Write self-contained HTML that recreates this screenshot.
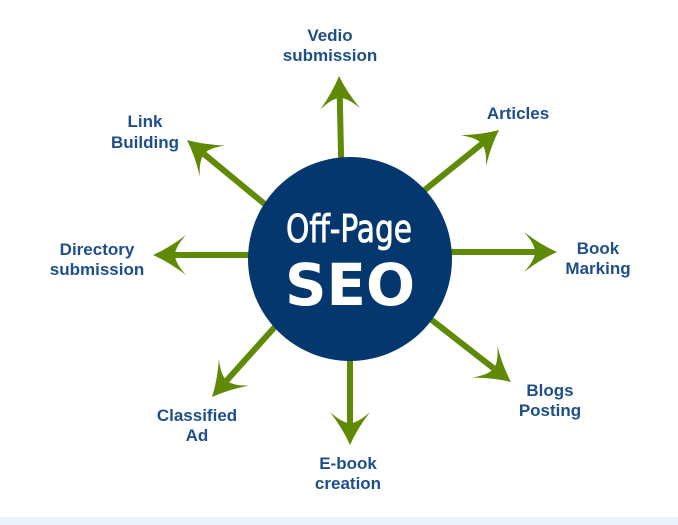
<!DOCTYPE html>
<html><head><meta charset="utf-8"><style>
html,body{margin:0;padding:0;background:#fff;width:678px;height:525px;overflow:hidden}
svg{display:block}
.l{font-family:"Liberation Sans",Arial,sans-serif;font-size:17px;font-weight:bold;fill:#1f4f8b;text-anchor:middle}
</style></head><body>
<svg width="678" height="525" viewBox="0 0 678 525" xmlns="http://www.w3.org/2000/svg">
<defs>
<path id="h" d="M0,0 Q-16,-7 -33,-20 Q-22,-8 -22,0 Q-22,8 -33,20 Q-16,7 0,0 Z" fill="#5f8a05"/>
</defs>
<rect x="0" y="517" width="678" height="8" fill="#ebf0f9"/>
<g stroke="#5f8a05" stroke-width="6">
<line x1="342" y1="200" x2="339.8" y2="98"/>
<line x1="400" y1="210" x2="481.9" y2="143.8"/>
<line x1="420" y1="252" x2="535" y2="252"/>
<line x1="410" y1="303" x2="493.7" y2="368.4"/>
<line x1="350" y1="320" x2="350" y2="423"/>
<line x1="290" y1="310" x2="226.6" y2="380.6"/>
<line x1="280" y1="255" x2="175" y2="255"/>
<line x1="290" y1="225" x2="204" y2="154"/>
</g>
<use href="#h" transform="translate(339,76) rotate(-92)"/>
<use href="#h" transform="translate(499,130) rotate(-39)"/>
<use href="#h" transform="translate(557,252) rotate(0)"/>
<use href="#h" transform="translate(511,382) rotate(38)"/>
<use href="#h" transform="translate(350,445) rotate(90)"/>
<use href="#h" transform="translate(212,397) rotate(131.6)"/>
<use href="#h" transform="translate(153,255) rotate(180)"/>
<use href="#h" transform="translate(187,140) rotate(-140.6)"/>
<circle cx="350" cy="259" r="102" fill="#03376e"/>
<text x="349" y="242" fill="#fff" stroke="#fff" stroke-width="0.8" font-family="'DejaVu Sans Condensed','Liberation Sans Narrow',sans-serif" font-size="38" text-anchor="middle" textLength="126" lengthAdjust="spacingAndGlyphs">Off-Page</text>
<text x="350" y="305" fill="#fff" font-family="'DejaVu Sans','Liberation Sans',sans-serif" font-weight="bold" font-size="58" text-anchor="middle" textLength="130" lengthAdjust="spacingAndGlyphs">SEO</text>
<text class="l" x="330" y="41">Vedio</text><text class="l" x="330" y="61">submission</text>
<text class="l" x="518" y="119">Articles</text>
<text class="l" x="145" y="127">Link</text><text class="l" x="145" y="148">Building</text>
<text class="l" x="97" y="255">Directory</text><text class="l" x="97" y="275">submission</text>
<text class="l" x="598" y="254">Book</text><text class="l" x="598" y="274">Marking</text>
<text class="l" x="550" y="396">Blogs</text><text class="l" x="550" y="416">Posting</text>
<text class="l" x="197" y="421">Classified</text><text class="l" x="197" y="441">Ad</text>
<text class="l" x="348" y="469">E-book</text><text class="l" x="348" y="489">creation</text>
</svg>
</body></html>
